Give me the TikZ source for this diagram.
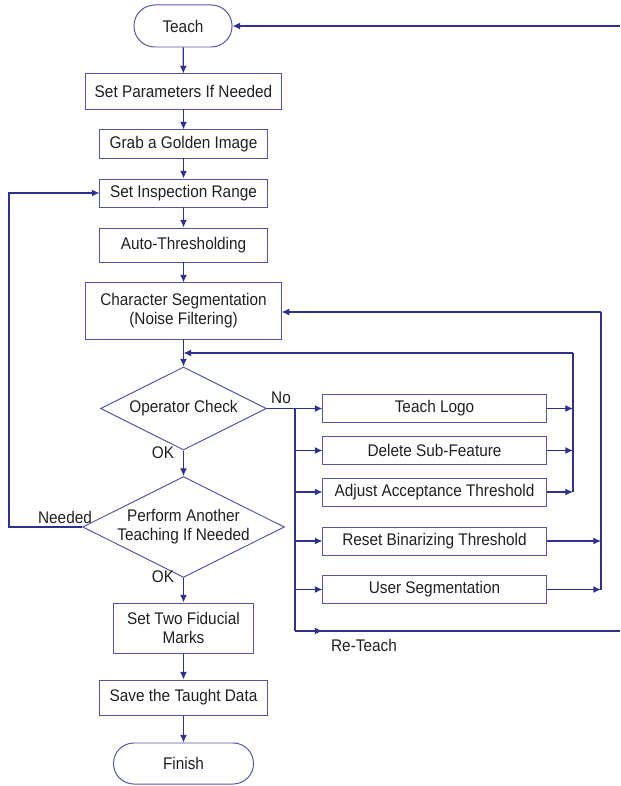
\documentclass[tikz,border=0pt]{standalone}
\usepackage{fontspec}
\setmainfont{Liberation Sans}[FakeStretch=0.91]
\usetikzlibrary{shapes.geometric,arrows.meta}
\definecolor{flowblue}{RGB}{46,49,146}
\definecolor{boxblue}{RGB}{84,84,168}
\definecolor{txtgray}{RGB}{35,31,32}

\begin{document}
\begin{tikzpicture}[x=0.025cm,y=-0.025cm,font=\fontsize{12}{13.5}\selectfont,text=txtgray,
		conn/.style={draw=flowblue,line width=0.9pt},
		arr/.style={-{Latex[length=5.5pt,width=5pt]}}]
	\useasboundingbox (0,0) rectangle (620,786);

	% main column
	\begin{scope}[every node/.style={draw=boxblue,line width=0.7pt,align=center,inner sep=0pt}]
		\node[rounded corners=0.52cm,minimum width=2.45cm,minimum height=1.05cm] (teach) at (183,26) {Teach};
		\node[minimum width=4.875cm,minimum height=0.875cm] (params) at (183.5,91.5) {Set Parameters If Needed};
		\node[minimum width=4.175cm,minimum height=0.7cm] (golden) at (183.5,144) {Grab a Golden Image};
		\node[minimum width=4.175cm,minimum height=0.7cm] (range) at (183.5,193) {Set Inspection Range};
		\node[minimum width=4.175cm,minimum height=0.85cm] (auto) at (183.5,245) {Auto-Thresholding};
		\node[minimum width=4.875cm,minimum height=1.4cm] (charseg) at (183.5,311) {Character Segmentation\\(Noise Filtering)};
		\node[diamond,aspect=2,minimum width=4.15cm,minimum height=2.075cm] (check) at (183.5,408.5) {Operator Check};
		\node[diamond,aspect=2,minimum width=4.85cm,minimum height=2.45cm] (another) at (183.5,527) {Perform Another\\Teaching If Needed};
		\node[minimum width=3.5cm,minimum height=1.25cm] (fiducial) at (183.5,628) {Set Two Fiducial\\Marks};
		\node[minimum width=4.2cm,minimum height=0.875cm] (save) at (183.5,697.5) {Save the Taught Data};
		\node[rounded corners=0.51cm,minimum width=3.5cm,minimum height=1.025cm] (finish) at (183.5,763.5) {Finish};
	\end{scope}

	% re-teach options
	\begin{scope}[every node/.style={draw=boxblue,line width=0.7pt,inner sep=0pt,minimum width=5.575cm,minimum height=0.7cm}]
		\node (logo) at (434.5,408.5) {Teach Logo};
		\node (subfeat) at (434.5,450.5) {Delete Sub-Feature};
		\node (accept) at (434.5,492) {Adjust Acceptance Threshold};
		\node (binar) at (434.5,541) {Reset Binarizing Threshold};
		\node (userseg) at (434.5,589.5) {User Segmentation};
	\end{scope}

	\node (no) at (281,398) {No};
	\node (ok1) at (163,453) {OK};
	\node (ok2) at (163,577) {OK};
	\node (needed) at (65,517) {Needed};
	\node (reteach) at (364,645) {Re-Teach};

	\coordinate (merge) at (183.5,353);
	\coordinate (fork) at (295,408.5);
	\coordinate (forkend) at (295,631);
	\coordinate (innertop) at (573,353);
	\coordinate (innerbot) at (573,492);
	\coordinate (outertop) at (601,312);
	\coordinate (outerbot) at (601,589.5);
	\coordinate (reout) at (620,631);
	\coordinate (rein) at (620,26);
	\coordinate (loopleft) at (9,527);

	\begin{scope}[every edge/.style={conn}]
		\path [arr] (teach) edge (params);
		\path [arr] (params) edge (golden);
		\path [arr] (golden) edge (range);
		\path [arr] (range) edge (auto);
		\path [arr] (auto) edge (charseg);
		\path [arr] (charseg) edge (check);
		\path [arr] (check) edge (another);
		\path [arr] (another) edge (fiducial);
		\path [arr] (fiducial) edge (save);
		\path [arr] (save) edge (finish);
		\path [arr] (rein) edge (teach.east);
		\path [arr] (check.east) edge (logo.west);
	\end{scope}

	\draw[conn] (fork) -- (forkend);
	\draw[conn,arr] (fork |- subfeat) -- (subfeat.west);
	\draw[conn,arr] (fork |- accept) -- (accept.west);
	\draw[conn,arr] (fork |- binar) -- (binar.west);
	\draw[conn,arr] (fork |- userseg) -- (userseg.west);
	\draw[conn] (forkend) -- (reout);
	\draw[conn,arr] (forkend) -- (logo.west |- forkend);

	\draw[conn,arr] (logo.east) -- (logo.east -| innertop);
	\draw[conn,arr] (subfeat.east) -- (subfeat.east -| innertop);
	\draw[conn,arr] (accept.east) -- (accept.east -| innertop);
	\draw[conn] (innerbot) -- (innertop);
	\draw[conn,arr] (innertop) -- (merge);

	\draw[conn,arr] (binar.east) -- (binar.east -| outertop);
	\draw[conn,arr] (userseg.east) -- (userseg.east -| outertop);
	\draw[conn] (outerbot) -- (outertop);
	\draw[conn,arr] (outertop) -- (charseg.east |- outertop);

	\draw[conn,arr] (another.west) -- (loopleft) |- (range.west);
\end{tikzpicture}
\end{document}
